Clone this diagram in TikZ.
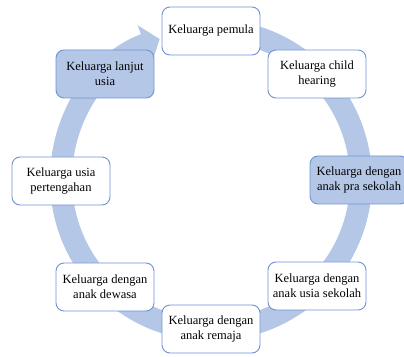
\documentclass[tikz,border=0pt]{standalone}
\usepackage{fontspec}
\setmainfont{Liberation Serif}
\usetikzlibrary{arrows.meta}
\definecolor{ringblue}{RGB}{180,199,231}
\definecolor{edgeblue}{RGB}{111,146,212}

\begin{document}
\begin{tikzpicture}[x=1pt,y=1pt,
  stage/.style={rectangle,rounded corners=8pt,draw=edgeblue,line width=0.9pt,fill=white,
    minimum width=98pt,minimum height=48pt,align=center,font=\fontsize{12.5}{15}\selectfont},
  stagedark/.style={stage,fill=ringblue}]
  \useasboundingbox (0,0) rectangle (404,356);
  \coordinate (c) at (211,176);
  \draw[ringblue,line width=22pt,-{Triangle[width=40pt,length=16pt]}]
    ([shift={(100:150)}]c) arc[start angle=100,end angle=-250,radius=150];

  \node[stage] (n1) at (211,325) {Keluarga pemula};
  \node[stage] (n2) at (317,282) {Keluarga child\\hearing};
  \node[stagedark] (n3) at (359,176) {Keluarga dengan\\anak pra sekolah};
  \node[stage] (n4) at (317,70) {Keluarga dengan\\anak usia sekolah};
  \node[stage] (n5) at (211,27) {Keluarga dengan\\anak remaja};
  \node[stage] (n6) at (105,69) {Keluarga dengan\\anak dewasa};
  \node[stage] (n7) at (61,175) {Keluarga usia\\pertengahan};
  \node[stagedark] (n8) at (105,282) {Keluarga lanjut\\usia};

\end{tikzpicture}
\end{document}
